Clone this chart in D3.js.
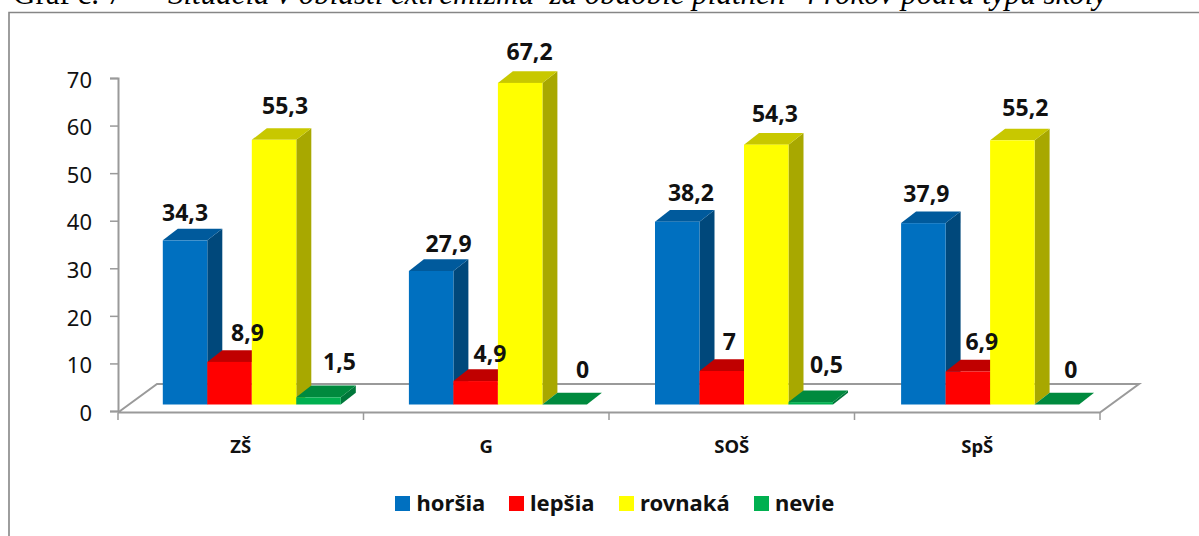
<!DOCTYPE html>
<html><head><meta charset="utf-8">
<script src="https://cdn.jsdelivr.net/npm/d3@7/dist/d3.min.js"></script>
<style>html,body{margin:0;padding:0;background:#fff;overflow:hidden}svg{display:block}</style>
</head><body><svg id="c" width="1199" height="536"></svg>
<script>
const categories = ["ZŠ","G","SOŠ","SpŠ"];
const seriesNames = ["horšia","lepšia","rovnaká","nevie"];
const horsia = [34.3,27.9,38.2,37.9];
const lepsia = [8.9,4.9,7,6.9];
const rovnaka = [55.3,67.2,54.3,55.2];
const nevie = [1.5,0,0.5,0];
const seriesValues = [horsia,lepsia,rovnaka,nevie];
const yTicks = [0,10,20,30,40,50,60,70];

// colours: front, top, side
const palette = [["#0070C0","#005A9C","#00487B"],["#FF0000","#C00000","#A80000"],["#FFFF00","#C8C800","#A8A800"],["#00B050","#008A3E","#00773A"]];
// manual label nudges [dx,dy] from the bar centre / top, per series per category
const nudges = [
 [[0,-27],[17.4,-27],[13.7,-29],[3,-29]],
 [[18,-29],[14.4,-27],[7.7,-29],[14,-29]],
 [[11,-34],[9.4,-31],[8.7,-31],[13,-32]],
 [[21,-35],[18,-35],[15.7,-37],[14,-35]]];
const DX=15, DY=11.7;

const svg=d3.select("#c");
const FONT="'Noto Sans',sans-serif";
// frame
svg.append("path").attr("d","M1199,12.5H9V536").attr("fill","none").attr("stroke","#868686").attr("stroke-width",1.6);
// title
const t=svg.append("text").attr("x",13).attr("y",4).attr("font-family","'Liberation Serif',serif").attr("font-size",31).attr("fill","#000").attr("xml:space","preserve");
t.append("tspan").text("Graf č. 7");
t.append("tspan").attr("x",168).attr("font-style","italic").text("Situácia v oblasti extrémizmu  za obdobie platnen  4 rokov podľa typu školy");

const yAxisScale=d3.scaleLinear().domain([0,70]).range([411,78]);
const yBar=d3.scaleLinear().domain([0,70]).range([404.5,69.5]);
const x0=d3.scaleBand().domain(categories).range([118,1100]);
const xBars=d3.scaleBand().domain(categories).range([162.8,162.8+4*246.1]);
const x1=d3.scaleBand().domain(seriesNames).range([0,178]);

// floor
const grey="#9a9a9a";
svg.append("path").attr("d","M118,412.5L157,384H1139L1100,412.5H118").attr("fill","#fff").attr("stroke",grey).attr("stroke-width",2);
// y axis
const yg=svg.append("g").attr("transform","translate(118,0)").call(d3.axisLeft(yAxisScale).tickValues(yTicks).tickSize(8).tickPadding(18).tickFormat(d3.format("d")));
yg.selectAll("line").attr("stroke",grey).attr("stroke-width",1.5);
yg.select(".domain").attr("stroke",grey).attr("stroke-width",2);
yg.selectAll("text").attr("font-family",FONT).attr("font-size",22).attr("fill","#111").attr("dy","0.42em");
// x axis
const xg=svg.append("g").attr("transform","translate(0,412.5)");
xg.selectAll("line").data(d3.range(categories.length+1)).join("line")
 .attr("x1",i=>118+i*x0.step()).attr("x2",i=>118+i*x0.step()).attr("y1",0).attr("y2",7.5).attr("stroke",grey).attr("stroke-width",1.5);
xg.selectAll("text").data(categories).join("text")
 .attr("x",d=>x0(d)+x0.bandwidth()/2).attr("y",40).attr("text-anchor","middle")
 .attr("font-family",FONT).attr("font-weight",700).attr("font-size",18.5).attr("fill","#111").text(d=>d);

// bars
const barsG=svg.append("g"), labelG=svg.append("g");
categories.forEach((c,ci)=>{
 seriesNames.forEach((s,si)=>{
  const v=seriesValues[si][ci], l=xBars(c)+x1(s), w=x1.bandwidth(), r=l+w, top=yBar(v), base=yBar(0), col=palette[si];
  barsG.append("path").attr("fill",col[2]).attr("d",`M${r},${base}L${r+DX},${base-DY}V${top-DY}L${r},${top}Z`);
  barsG.append("path").attr("fill",col[1]).attr("d",`M${l},${top}L${l+DX},${top-DY}H${r+DX}L${r},${top}Z`);
  if(base-top>0) barsG.append("rect").attr("x",l).attr("y",top).attr("width",w).attr("height",base-top).attr("fill",col[0]);
  const n=nudges[si][ci];
  labelG.append("text").attr("x",l+w/2+n[0]).attr("y",top+n[1]+8).attr("text-anchor","middle")
   .attr("font-family",FONT).attr("font-weight",700).attr("font-size",23).attr("fill","#111").text(String(v).replace(".",","));
 });
});

// legend
const legendX=[395,509,619,754], legendTextX=[416.5,530,640,775];
const lg=svg.append("g");
seriesNames.forEach((s,i)=>{
 lg.append("rect").attr("x",legendX[i]).attr("y",496).attr("width",15).attr("height",15).attr("fill",palette[i][0]);
 lg.append("text").attr("x",legendTextX[i]).attr("y",510.5).attr("font-family",FONT).attr("font-weight",700).attr("font-size",22).attr("fill","#111").text(s);
});
</script></body></html>
